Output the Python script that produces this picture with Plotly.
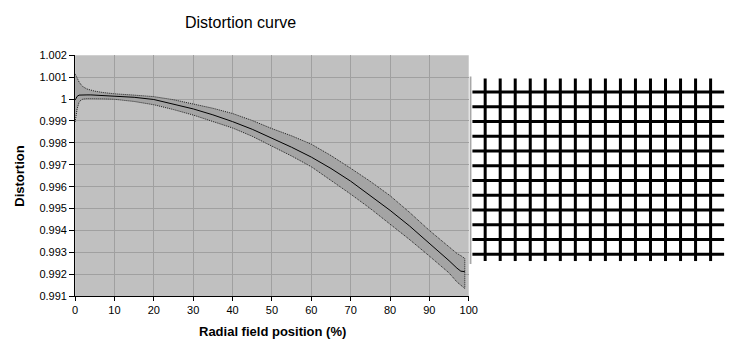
import plotly.graph_objects as go

# ---------------- data ----------------
radial_pos = [0, 0.5, 1, 1.5, 2, 3, 4, 5, 7, 10, 15, 20, 25, 30, 35, 40, 45, 50,
              55, 60, 65, 70, 75, 80, 85, 90, 93, 95, 97, 98, 99]
distortion_mean = [0.99995, 1.00012, 1.00018, 1.00019, 1.00019, 1.00019, 1.00019,
                   1.00018, 1.00017, 1.00015, 1.00008, 0.99998, 0.99978, 0.99955,
                   0.99928, 0.99897, 0.99862, 0.99821, 0.99780, 0.99735, 0.99683,
                   0.99625, 0.99560, 0.99492, 0.99420, 0.99342, 0.99295, 0.99262,
                   0.99228, 0.99214, 0.99212]
distortion_upper = [1.00115, 1.00095, 1.00078, 1.00066, 1.00056, 1.00046, 1.00040,
                    1.00036, 1.00030, 1.00024, 1.00018, 1.00011, 0.99997, 0.99978,
                    0.99958, 0.99934, 0.99902, 0.99865, 0.99832, 0.99794, 0.99742,
                    0.99684, 0.99624, 0.99559, 0.99482, 0.99400, 0.99355, 0.99321,
                    0.99295, 0.99285, 0.99272]
distortion_lower = [0.99895, 0.99955, 0.99985, 0.99996, 1.00000, 1.00002, 1.00002,
                    1.00002, 1.00001, 0.99999, 0.99989, 0.99974, 0.99952, 0.99927,
                    0.99899, 0.99868, 0.99830, 0.99785, 0.99740, 0.99691, 0.99630,
                    0.99566, 0.99500, 0.99430, 0.99358, 0.99283, 0.99238, 0.99206,
                    0.99165, 0.99148, 0.99135]

y_ticks = [0.991, 0.992, 0.993, 0.994, 0.995, 0.996, 0.997, 0.998, 0.999, 1.0, 1.001, 1.002]
y_tick_labels = ["0.991", "0.992", "0.993", "0.994", "0.995", "0.996", "0.997",
                 "0.998", "0.999", "1", "1.001", "1.002"]
x_ticks = [0, 10, 20, 30, 40, 50, 60, 70, 80, 90, 100]

# distortion grid image (column / row indices of the grid lines)
grid_cols = list(range(16))
grid_rows = list(range(12))
col_line_extent = [-0.92, 11.46]   # vertical lines span (in row units)
row_line_extent = [-0.85, 15.9]    # horizontal lines span (in column units)

FONT = "Liberation Sans, Arial, sans-serif"

fig = go.Figure()

# band
band_x = radial_pos + radial_pos[::-1]
band_y = distortion_upper + distortion_lower[::-1]
fig.add_trace(go.Scatter(
    x=band_x, y=band_y, mode="lines", fill="toself", fillcolor="#a4a4a4",
    line=dict(color="#202020", width=1, dash="1px,1px"), hoverinfo="skip",
    showlegend=False, xaxis="x", yaxis="y"))
# mean curve
fig.add_trace(go.Scatter(
    x=radial_pos, y=distortion_mean, mode="lines",
    line=dict(color="black", width=1), hoverinfo="skip",
    showlegend=False, xaxis="x", yaxis="y"))

# grid image
vx, vy = [], []
for c in grid_cols:
    vx += [c, c, None]
    vy += [col_line_extent[0], col_line_extent[1], None]
hx, hy = [], []
for r in grid_rows:
    hx += [row_line_extent[0], row_line_extent[1], None]
    hy += [r, r, None]
fig.add_trace(go.Scatter(x=[-0.98, -0.98], y=[-1.05, 11.66], mode="lines",
                         line=dict(color="#a8a8a8", width=2), hoverinfo="skip",
                         showlegend=False, xaxis="x2", yaxis="y2"))
fig.add_trace(go.Scatter(x=hx, y=hy, mode="lines", line=dict(color="black", width=3),
                         hoverinfo="skip", showlegend=False, xaxis="x2", yaxis="y2"))
fig.add_trace(go.Scatter(x=vx, y=vy, mode="lines", line=dict(color="black", width=3),
                         hoverinfo="skip", showlegend=False, xaxis="x2", yaxis="y2"))

W, H = 751, 352
px_x0, px_x1 = 73.3, 473.3
px_ytop, px_ybot = 51.0, 300.4

fig.update_layout(
    width=W, height=H, margin=dict(l=0, r=0, t=0, b=0),
    paper_bgcolor="white", plot_bgcolor="rgba(0,0,0,0)",
    font=dict(family=FONT, size=11, color="black"),
    xaxis=dict(domain=[px_x0 / W, px_x1 / W], range=[0, 100], tickvals=x_ticks,
               showgrid=True, gridcolor="#a0a0a0", gridwidth=1,
               showline=True, linecolor="black", linewidth=1,
               ticks="outside", ticklen=4, tickcolor="black", zeroline=False,
               tickfont=dict(family=FONT, size=11, color="black"), anchor="y"),
    yaxis=dict(domain=[1 - px_ybot / H, 1 - px_ytop / H], range=[0.991, 1.002],
               tickvals=y_ticks, ticktext=y_tick_labels,
               showgrid=True, gridcolor="#a0a0a0", gridwidth=1,
               showline=True, linecolor="black", linewidth=1,
               ticks="outside", ticklen=5, tickcolor="black", zeroline=False,
               tickfont=dict(family=FONT, size=11, color="black"), anchor="x"),
    xaxis2=dict(domain=[474 / W, 1.0], range=[-1.048, 17.09], visible=False,
                anchor="y2"),
    yaxis2=dict(domain=[0, 1], range=[17.22, -5.83], visible=False, anchor="x2"),
    shapes=[dict(type="rect", xref="x domain", yref="y domain", x0=0, x1=1, y0=0, y1=1,
                 fillcolor="#c0c0c0", line=dict(width=0), layer="below")],
    annotations=[
        dict(text="Distortion curve", x=241 / W, y=1 - 17 / H, xref="paper", yref="paper",
             xanchor="center", yanchor="middle", showarrow=False,
             font=dict(family=FONT, size=16, color="black")),
        dict(text="<b>Radial field position (%)</b>", x=274 / W, y=1 - 337 / H,
             xref="paper", yref="paper", xanchor="center", yanchor="middle",
             showarrow=False, font=dict(family=FONT, size=13, color="black")),
        dict(text="<b>Distortion</b>", x=16 / W, y=1 - 176 / H, xref="paper", yref="paper",
             xanchor="center", yanchor="middle", textangle=-90, showarrow=False,
             font=dict(family=FONT, size=13, color="black")),
    ],
)

fig.write_html("out.html")
